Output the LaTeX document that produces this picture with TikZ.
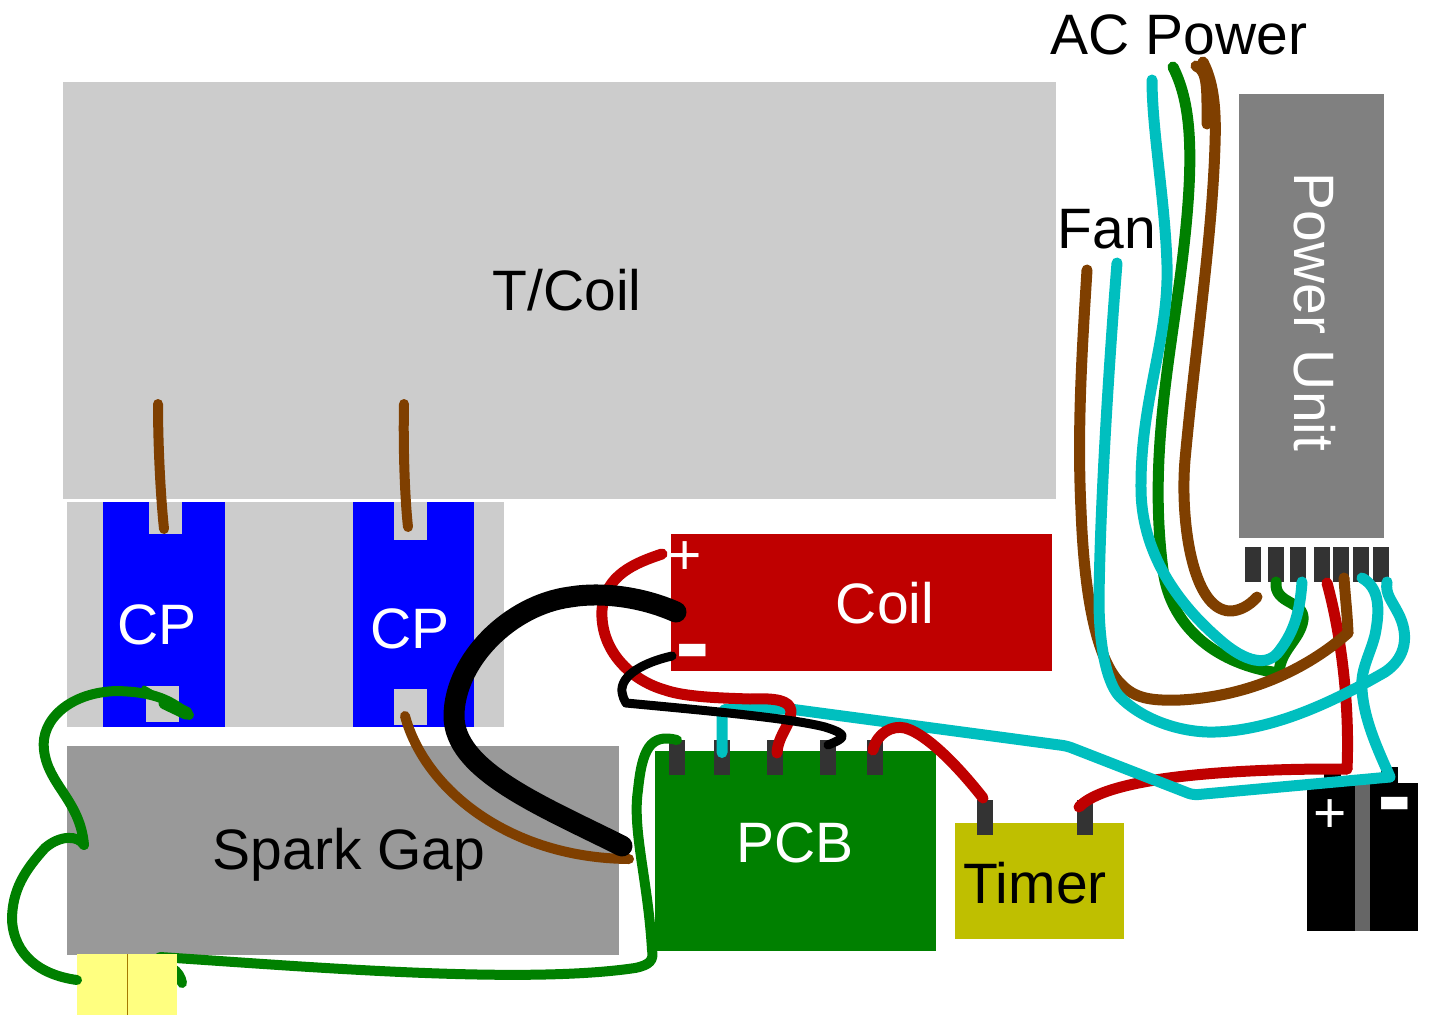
\documentclass[tikz,border=0pt]{standalone}
\usepackage{fontspec}
\setmainfont{Liberation Sans}

\definecolor{panelgray}{HTML}{CCCCCC}
\definecolor{gapgray}{HTML}{999999}
\definecolor{unitgray}{HTML}{808080}
\definecolor{pingray}{HTML}{333333}
\definecolor{coilred}{HTML}{BF0000}
\definecolor{pcbgreen}{HTML}{008000}
\definecolor{timeryellow}{HTML}{BFBF00}
\definecolor{fuseyellow}{HTML}{FFFF80}
\definecolor{wirecyan}{HTML}{00BFBF}
\definecolor{wirebrown}{HTML}{7F3F00}

\tikzset{
block/.style={inner sep=0,outer sep=0,anchor=north west},
pinbox/.style={fill=pingray,inner sep=0,outer sep=0,minimum width=16pt,minimum height=35pt},
txt/.style={inner sep=0,font={\fontsize{57}{60}\selectfont}},
minustxt/.style={inner sep=0,white,font={\fontsize{104}{104}\selectfont\bfseries}},
wire/.style={line width=11pt,line cap=round,line join=round},
thinwire/.style={line width=10pt,line cap=round,line join=round},
}

\begin{document}
\begin{tikzpicture}[x=1pt,y=-1pt]
\useasboundingbox (0,0) rectangle (1431,1015);

\node[block,fill=panelgray,minimum width=437pt,minimum height=225pt] (cpback) at (67,502) {};
\node[block,fill=panelgray,minimum width=993pt,minimum height=417pt] (tcoil) at (63,82) {};
\node[block,fill=blue,minimum width=122pt,minimum height=225pt] (cpa) at (103,502) {};
\node[block,fill=blue,minimum width=121pt,minimum height=225pt] (cpb) at (353,502) {};
\node[block,fill=panelgray,minimum width=33pt,minimum height=32pt] (cpatop) at (149,502) {};
\node[block,fill=panelgray,minimum width=33pt,minimum height=36pt] (cpabot) at (146,686) {};
\node[block,fill=panelgray,minimum width=33pt,minimum height=38pt] (cpbtop) at (394,502) {};
\node[block,fill=panelgray,minimum width=33pt,minimum height=36pt] (cpbbot) at (394,689) {};
\node[block,fill=gapgray,minimum width=552pt,minimum height=209pt] (gap) at (67,746) {};
\node[block,fill=coilred,minimum width=381pt,minimum height=137pt] (coil) at (671,534) {};
\node[block,fill=pcbgreen,minimum width=281pt,minimum height=200pt] (pcb) at (655,751) {};
\node[block,fill=timeryellow,minimum width=169pt,minimum height=116pt] (timer) at (955,823) {};
\node[block,fill=unitgray,minimum width=145pt,minimum height=444pt] (unit) at (1239,94) {};

% battery
\node[block,fill=black,minimum width=17pt,minimum height=18pt] (batplus) at (1324,767) {};
\node[block,fill=black,minimum width=17pt,minimum height=18pt] (batminus) at (1381,767) {};
\node[block,fill=black,minimum width=111pt,minimum height=148pt] (bat) at (1307,783) {};
\node[block,fill=black!60,minimum width=15pt,minimum height=148pt] (batmid) at (1355,783) {};

\foreach \x [count=\i] in {1253,1276,1298,1322,1341,1361,1381} {
\node[pinbox] (pu-\i) at (\x,564.5) {};
};
\foreach \x [count=\i] in {677,722,775,828,875} {
\node[pinbox] (pc-\i) at (\x,757.5) {};
};
\node[pinbox] (ti-1) at (985,817) {};
\node[pinbox] (ti-2) at (1085,817) {};

% wire ends
\coordinate (acbrown) at (1203,62);
\coordinate (acgreen) at (1173,67);
\coordinate (accyan) at (1152,80);
\coordinate (fanbrown) at (1087,270);
\coordinate (fancyan) at (1117,263);
\coordinate (batjoin) at (1390,777);
\coordinate (batred) at (1347,769);
\coordinate (branch) at (1279,673);
\coordinate (gapjoin) at (84,845);
\coordinate (browncorner) at (1348,633);

% green, left side
\draw[thinwire,pcbgreen] (160,957) .. controls (300,966) and (520,985) .. (635,968) .. controls (650,965) and (654,960) .. (652,950) .. controls (648,880) and (632,830) .. (638,790) .. controls (642,750) and (650,733) .. (pc-1.north);
\draw[thinwire,pcbgreen] (172,968) .. controls (178,972) and (181,977) .. (182,983);

\node[block,fill=fuseyellow,minimum width=100pt,minimum height=61pt] (fuse) at (77,954) {};
\draw[wirebrown!70!yellow,line width=1pt] (fuse.north) -- (fuse.south);

\draw[thinwire,pcbgreen] (189,715) .. controls (170,700) and (155,692) .. (117,691) .. controls (70,692) and (40,720) .. (44,750) .. controls (48,785) and (80,800) .. (gapjoin);
\draw[thinwire,pcbgreen,line width=5pt] (144,688) -- (168,702);
\draw[thinwire,pcbgreen,line width=13pt] (165,703) -- (186,713);
\draw[thinwire,pcbgreen] (gapjoin) .. controls (78,835) and (60,835) .. (45,848) .. controls (25,870) and (12,890) .. (12,920) .. controls (14,955) and (40,975) .. (77,980);

% brown, tanks
\draw[thinwire,wirebrown] (158,404) .. controls (158,440) and (160,490) .. (164,529);
\draw[thinwire,wirebrown] (404,404) .. controls (403,450) and (405,500) .. (408,527);
\draw[thinwire,wirebrown] (405,716) .. controls (425,790) and (510,858) .. (629,859);

% battery + timer red
\draw[wire,coilred] (1079,807) .. controls (1100,785) and (1170,775) .. (1250,771) .. controls (1290,769) and (1320,769) .. (batred);
\draw[wire,coilred] (1327,583) .. controls (1340,630) and (1350,700) .. (batred);

% mains + unit wires
\draw[wire,pcbgreen] (acgreen) .. controls (1192,105) and (1197,160) .. (1177,300) .. controls (1166,380) and (1150,470) .. (1163,570) .. controls (1171,630) and (1220,665) .. (branch);
\draw[wire,pcbgreen] (pu-2.south) .. controls (1274,605) and (1305,600) .. (1303,620) .. controls (1300,640) and (1280,650) .. (branch);
\draw[wire,wirebrown] (1196,66) .. controls (1208,70) and (1207,90) .. (1207,124);
\draw[wire,wirebrown] (acbrown) .. controls (1215,85) and (1216,115) .. (1215,145) .. controls (1212,240) and (1195,350) .. (1185,460) .. controls (1180,520) and (1192,610) .. (1230,611) .. controls (1240,611) and (1250,605) .. (1257,597);
\draw[wire,wirebrown] (fanbrown) .. controls (1082,350) and (1077,430) .. (1081,510) .. controls (1084,590) and (1095,660) .. (1122,685) .. controls (1135,698) and (1150,701) .. (1180,700) .. controls (1240,697) and (1300,675) .. (browncorner);
\draw[wire,wirebrown] (browncorner) .. controls (1347,610) and (1345,595) .. (1344,578);
\draw[wire,wirecyan] (accyan) .. controls (1152,130) and (1165,200) .. (1167,265) .. controls (1169,340) and (1140,400) .. (1141,490) .. controls (1142,560) and (1185,610) .. (1220,640) .. controls (1245,662) and (1268,668) .. (1280,650) .. controls (1295,630) and (1300,610) .. (1302,582);
\draw[wire,wirecyan] (fancyan) .. controls (1110,350) and (1100,500) .. (1099,600) .. controls (1099,650) and (1108,685) .. (1120,697) .. controls (1145,722) and (1185,733) .. (1215,732) .. controls (1280,730) and (1345,695) .. (1385,672) .. controls (1403,660) and (1410,640) .. (1400,617) .. controls (1392,600) and (1385,595) .. (1387,582);
\draw[wire,wirecyan] (1362,578) .. controls (1380,588) and (1380,610) .. (1375,635) .. controls (1370,655) and (1360,670) .. (1362,690) .. controls (1364,720) and (1378,750) .. (batjoin);
\draw[wire,wirecyan,rounded corners=5pt] ([yshift=5pt]pc-2.center) -- (722,709) -- (790,709) -- (1067,746) -- (1193,795) -- (batjoin);

% coil wires
\draw[wire,coilred] (662,554) .. controls (635,563) and (605,575) .. (602,610) .. controls (600,650) and (630,680) .. (665,690) .. controls (685,697) and (720,698) .. (750,699) .. controls (775,698) and (790,700) .. (791,711) .. controls (791,725) and (778,735) .. (777,753);
\draw[wire,coilred] (873,750) .. controls (877,733) and (892,725) .. (905,728) .. controls (930,735) and (965,775) .. (983,798);
\draw[wire,black,line width=9pt] (672,656) .. controls (645,662) and (620,675) .. (622,692) .. controls (623,697) and (624,700) .. (626,703) .. controls (700,710) and (790,718) .. (825,727) .. controls (850,735) and (845,738) .. (828,745);
\draw[wire,black,line width=21pt] (676,612) .. controls (640,596) and (600,592) .. (570,597) .. controls (510,605) and (455,660) .. (454,715) .. controls (453,770) and (540,805) .. (622,846);

% texts
\node[txt] (tcoillab) at (567,290) {T/Coil};
\node[txt,white] (cpalab) at (157,625) {CP};
\node[txt,white] (cpblab) at (410,629) {CP};
\node[txt] (gaplab) at (349,855) {Spark Gap};
\node[txt,white] (coillab) at (885,603) {Coil};
\node[txt,white] (pcblab) at (795,843) {PCB};
\node[txt] (timerlab) at (1035,883) {Timer};
\node[txt] (fanlab) at (1107,229) {Fan};
\node[txt] (aclab) at (1179,35) {AC Power};
\node[txt,white,rotate=-90] (unitlab) at (1315,312) {Power Unit};
\node[txt,white] (coilpluslab) at (685,558) {+};
\node[txt,white] (batpluslab) at (1330,816) {+};
\node[minustxt] (coilminuslab) at (692.5,661) {-};
\node[minustxt] (batminuslab) at (1394.5,814) {-};
\end{tikzpicture}
\end{document}
